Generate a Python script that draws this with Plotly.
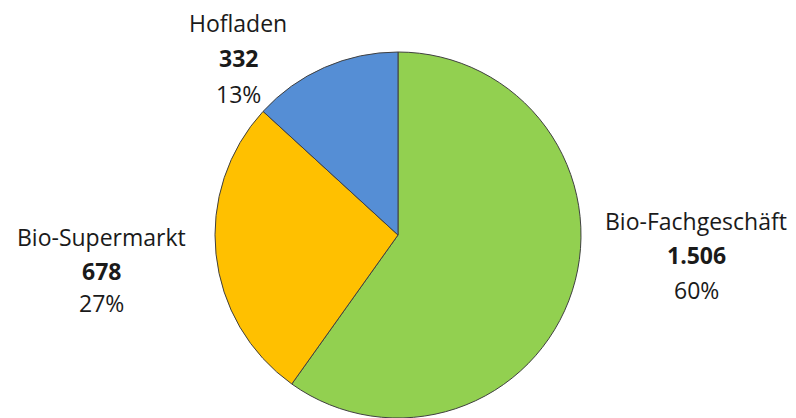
import plotly.graph_objects as go

categories = ["Bio-Fachgeschäft", "Bio-Supermarkt", "Hofladen"]
values = [1506, 678, 332]
colors = ["#92D050", "#FFC000", "#558ED5"]

# page body has an 8px default margin; work in window coordinates
OFF = 8
W, H = 796 - OFF, 418 - OFF
total = sum(values)

def fmt(v):
    return f"{v:,}".replace(",", ".")

def px_x(x):
    return (x - OFF) / W

def px_y(y):
    return 1 - (y - OFF) / H

fig = go.Figure(go.Pie(
    labels=categories,
    values=values,
    sort=False,
    direction="clockwise",
    rotation=0,
    marker=dict(colors=colors, line=dict(color="#404040", width=1)),
    textinfo="none",
    hoverinfo="label+value+percent",
    domain=dict(x=[px_x(213), px_x(583)], y=[0.0, px_y(52)]),
    showlegend=False,
))

# label anchor positions (window pixel centers of the three text lines)
label_pos = {
    "Hofladen": (238, [23, 58, 94]),
    "Bio-Supermarkt": (101, [237, 271, 303]),
    "Bio-Fachgeschäft": (696, [221, 255, 290]),
}

font_family = "Open Sans, Lato, sans-serif"
fs = 23
for cat, val in zip(categories, values):
    cx, ys = label_pos[cat]
    pct = round(val / total * 100)
    texts = [cat, f"<b>{fmt(val)}</b>", f"{pct}%"]
    for t, y in zip(texts, ys):
        fig.add_annotation(
            x=px_x(cx), y=px_y(y), xref="paper", yref="paper",
            text=t, showarrow=False, xanchor="center", yanchor="middle",
            font=dict(family=font_family, size=fs, color="#1a1a1a"),
        )

fig.update_layout(
    width=W, height=H,
    margin=dict(l=0, r=0, t=0, b=0),
    paper_bgcolor="white", plot_bgcolor="white",
)

fig.write_html("out.html")
